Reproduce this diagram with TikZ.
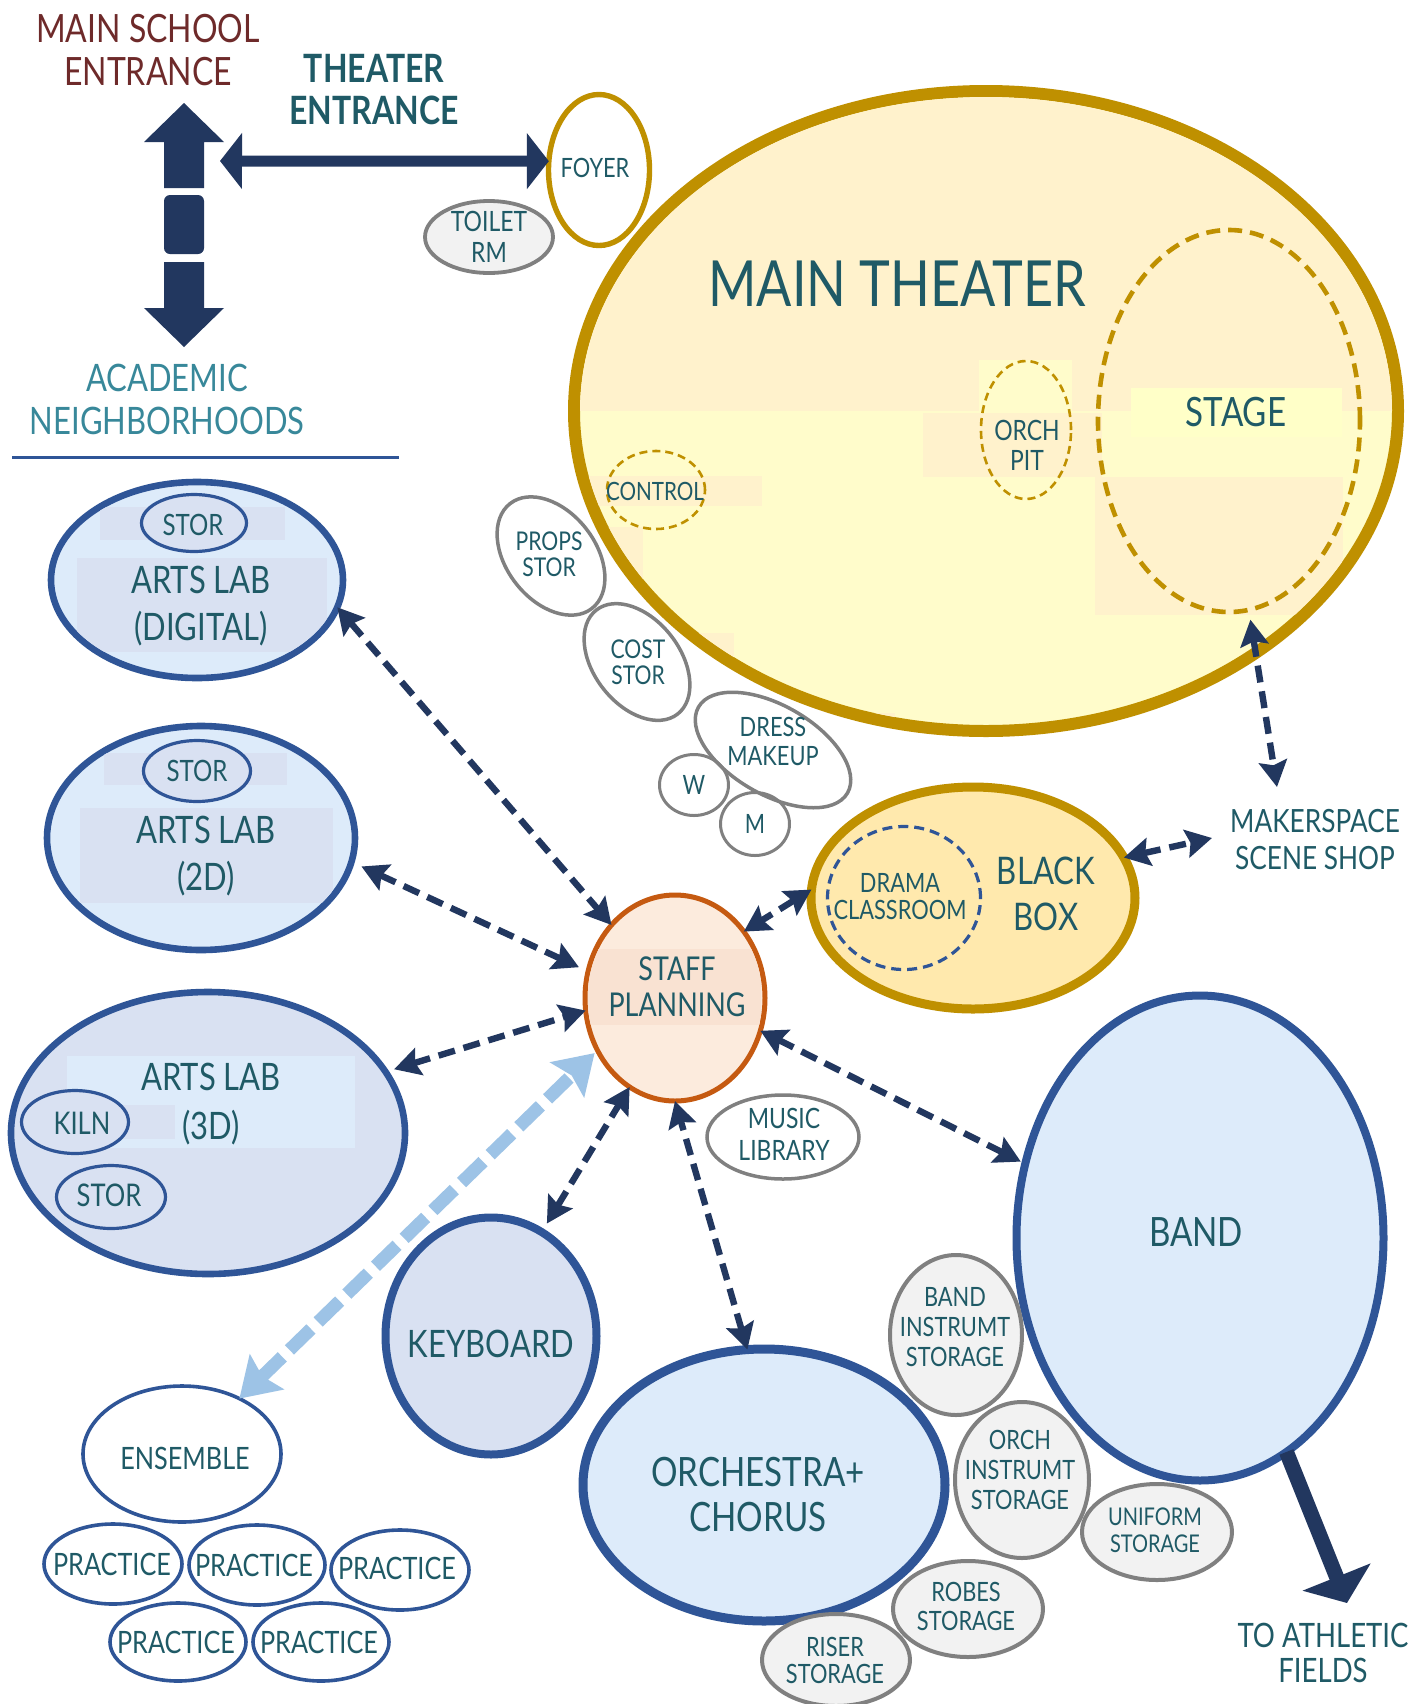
\documentclass[tikz,border=0pt]{standalone}
\usepackage{fontspec}
\setmainfont[FakeStretch=0.82]{Lato}
\usetikzlibrary{shapes.geometric,arrows.meta,calc}

\definecolor{txt}{HTML}{1F5A66}
\definecolor{maroon}{HTML}{6E2A2A}
\definecolor{acad}{HTML}{38889A}
\definecolor{navy}{HTML}{22375F}
\definecolor{bstroke}{HTML}{2F5597}
\definecolor{bfill}{HTML}{DDEBFA}
\definecolor{bfillD}{HTML}{D9E1F2}
\definecolor{gold}{HTML}{BF9000}
\definecolor{creamA}{HTML}{FFF2CC}
\definecolor{creamB}{HTML}{FFFCCB}
\definecolor{paleY}{HTML}{FFFFC8}
\definecolor{bbfill}{HTML}{FFE9AD}
\definecolor{orng}{HTML}{C55A11}
\definecolor{peach}{HTML}{FCEBDD}
\definecolor{peachD}{HTML}{F9E2D2}
\definecolor{gstroke}{HTML}{808080}
\definecolor{gfill}{HTML}{F2F2F2}
\definecolor{lblue}{HTML}{9DC3E6}

\newcommand\fnt[2]{\fontsize{#1}{#2}\selectfont}

\tikzset{
  el/.style 2 args={ellipse, inner sep=0pt, outer sep=0pt, minimum width=#1pt, minimum height=#2pt},
  tx/.style={inner sep=0pt, align=center, text=txt},
  blueroom/.style={draw=bstroke, line width=3.3pt, fill=bfill},
  bluesmall/.style={draw=bstroke, line width=1.6pt, fill=bfillD},
  blueout/.style={draw=bstroke, line width=1.8pt, fill=white},
  grayroom/.style={draw=gstroke, line width=1.75pt, fill=white},
  graystore/.style={draw=gstroke, line width=2pt, fill=gfill},
  golddash/.style={draw=gold, line width=1.3pt, dash pattern=on 4pt off 2.5pt},
  link/.style={navy, line width=3.2pt, dash pattern=on 8.5pt off 4.5pt,
    {Stealth[length=13pt,width=14pt,inset=2pt]}-{Stealth[length=13pt,width=14pt,inset=2pt]}},
  lightlink/.style={lblue, line width=6.5pt, dash pattern=on 15pt off 5pt,
    {Stealth[length=19pt,width=24pt,inset=3pt]}-{Stealth[length=19pt,width=24pt,inset=3pt]}},
}

\begin{document}
\begin{tikzpicture}[x=0.5pt, y=-0.5pt]
\fill[white] (0,0) rectangle (1427,1704);
\useasboundingbox (0,0) rectangle (1427,1704);

% ---------- entrances ----------
\node[tx, text=maroon, font=\fnt{19.5}{21.5}] (mainschool) at (148,50) {MAIN SCHOOL\\ENTRANCE};
\node[tx, font=\bfseries\fnt{19.5}{21}] (theaterent) at (374,90) {THEATER\\ENTRANCE};
\node[tx, text=acad, font=\fnt{18.9}{21.5}] (academic) at (167,399) {ACADEMIC\\NEIGHBORHOODS};
\draw[bstroke, line width=1.5pt] (12,457) -- (399,457);

% corridor arrow (north / south)
\fill[navy] (184,103) -- (224,142) -- (204,142) -- (204,188) -- (164,188) -- (164,142) -- (144,142) -- cycle;
\fill[navy, rounded corners=3pt] (164,195) rectangle (204,254);
\fill[navy] (164,262) -- (204,262) -- (204,308) -- (224,308) -- (184,347) -- (144,308) -- (164,308) -- cycle;

% ---------- main theater ----------
\node[el={412}{320}, draw=gold, line width=6pt, fill=creamB] (theater) at (986,411) {};
\begin{scope}
  \clip (986,411) ellipse [x radius=203pt, y radius=157pt];
  \fill[creamA] (500,0) rectangle (1427,411);
  \fill[creamB] (979,360) rectangle (1072,411);
  \fill[creamA] (923,413) rectangle (1102,477);
  \fill[creamA] (586,476) rectangle (762,506);
  \fill[creamA] (577,527) rectangle (643,582);
  \fill[creamA] (661,633) rectangle (734,668);
  \fill[creamA] (818,713) rectangle (895,733);
  \fill[creamA] (1095,477) rectangle (1343,615);
  \fill[paleY] (1131,388) rectangle (1342,437);
\end{scope}
\node[tx, font=\fnt{31.8}{34}] (theatertitle) at (897,284) {MAIN THEATER};
\node[el={131}{191}, draw=gold, line width=2.3pt, dash pattern=on 7pt off 4pt] (stage) at (1229,421) {};
\node[tx, font=\fnt{20.2}{22}] (stagetxt) at (1236,412) {STAGE};
\node[el={45}{69}, golddash] (orchpit) at (1026,430) {};
\node[tx, font=\fnt{14}{15}] (orchpittxt) at (1027,445) {ORCH\\PIT};
\node[el={49}{39}, golddash] (control) at (656,490) {};
\node[tx, font=\fnt{12.6}{13}] (controltxt) at (655,491) {CONTROL};

% foyer and toilet
\node[el={50.5}{75.5}, draw=gold, line width=2.7pt, fill=white] (foyer) at (599,170) {};
\node[tx, font=\fnt{13.3}{14}] (foyertxt) at (595,167.5) {FOYER};
\node[el={64}{36}, graystore, line width=1.9pt] (toilet) at (489,237) {};
\node[tx, font=\fnt{14}{15.5}] (toilettxt) at (489,237) {TOILET\\RM};

% theater support rooms
\node[el={66.5}{44.5}, grayroom, rotate=-52] (props) at (551,556) {};
\node[tx, font=\fnt{12.9}{13}] (propstxt) at (549,554.5) {PROPS\\STOR};
\node[el={66}{43}, grayroom, rotate=-52] (cost) at (637,662) {};
\node[tx, font=\fnt{12.9}{13}] (costtxt) at (638,662.5) {COST\\STOR};
\node[el={86}{44.5}, grayroom, fill=none, rotate=-30] (dress) at (773,750) {};
\node[tx, font=\fnt{13.3}{14.5}] (dresstxt) at (773,741.5) {DRESS\\MAKEUP};
\node[el={34.5}{30.5}, grayroom, line width=1.5pt, fill=none] (wroom) at (694,785) {};
\node[tx, font=\fnt{13.3}{14}] (wtxt) at (694,785) {W};
\node[el={34.5}{31.5}, grayroom, line width=1.5pt, fill=none] (mroom) at (755,824) {};
\node[tx, font=\fnt{13.3}{14}] (mtxt) at (755,824) {M};

% ---------- arts labs ----------
\node[el={146}{98}, blueroom] (digital) at (197,580) {};
\begin{scope}
  \clip (197,580) ellipse [x radius=71.3pt, y radius=47.3pt];
  \fill[bfillD] (100,507) rectangle (285,540);
  \fill[bfillD] (77,558) rectangle (327,652);
\end{scope}
\node[el={52.5}{28.5}, bluesmall] (stordig) at (194,523) {};
\node[tx, font=\fnt{14.7}{15}] (stordigtxt) at (193,524.5) {STOR};
\node[tx, font=\fnt{18.9}{23.5}] (digitaltxt) at (201,606) {ARTS LAB\\(DIGITAL)};

\node[el={154}{112}, blueroom] (twod) at (201,838) {};
\begin{scope}
  \clip (201,838) ellipse [x radius=75.3pt, y radius=54.3pt];
  \fill[bfillD] (104,753) rectangle (287,785);
  \fill[bfillD] (80,808) rectangle (333,903);
\end{scope}
\node[el={53.5}{30.5}, bluesmall] (stortwod) at (197,771) {};
\node[tx, font=\fnt{14.7}{15}] (stortwodtxt) at (197,770.5) {STOR};
\node[tx, font=\fnt{18.9}{23.5}] (twodtxt) at (206,856) {ARTS LAB\\(2D)};

\node[el={197}{141}, blueroom, fill=bfillD] (threed) at (208,1133) {};
\fill[bfill] (67,1056) rectangle (355,1148);
\fill[bfillD] (67,1105) rectangle (175,1139);
\node[tx, font=\fnt{18.9}{24.5}] (threedtxt) at (211,1104) {ARTS LAB\\(3D)};
\node[el={53.5}{31.5}, bluesmall] (kiln) at (75,1122) {};
\node[tx, font=\fnt{15.6}{16}] (kilntxt) at (82,1123.5) {KILN};
\node[el={54.5}{31.5}, bluesmall] (storthreed) at (111,1197) {};
\node[tx, font=\fnt{15.6}{16}] (storthreedtxt) at (109,1195.5) {STOR};

% ---------- staff planning ----------
\node[el={90}{103}, draw=orng, line width=2.5pt, fill=peach] (staff) at (675,998) {};
\begin{scope}
  \clip (675,998) ellipse [x radius=43.7pt, y radius=50.2pt];
  \fill[peachD] (588,949) rectangle (761,1025);
\end{scope}
\node[tx, font=\fnt{16.4}{18}] (stafftxt) at (677,987) {STAFF\\PLANNING};

% ---------- black box ----------
\node[el={162}{111}, draw=gold, line width=4.5pt, fill=bbfill] (blackbox) at (973,898) {};
\node[el={76.5}{71.5}, draw=bstroke, line width=1.6pt, dash pattern=on 5pt off 3pt] (drama) at (904,898) {};
\node[tx, font=\fnt{13.3}{13.5}] (dramatxt) at (900,896.5) {DRAMA\\CLASSROOM};
\node[tx, font=\fnt{19}{23}] (blackboxtxt) at (1046,893.5) {BLACK\\BOX};
\node[tx, font=\fnt{16}{18.5}] (makerspace) at (1315,840) {MAKERSPACE\\SCENE SHOP};

\node[el={76}{42}, grayroom] (music) at (783,1137) {};
\node[tx, font=\fnt{14}{16}] (musictxt) at (784,1134) {MUSIC\\LIBRARY};

% ---------- music rooms ----------
\node[el={105.5}{118.5}, blueroom, line width=4pt, fill=bfillD] (keyboard) at (491,1336) {};
\node[tx, font=\fnt{18.9}{20}] (keyboardtxt) at (491,1343.5) {KEYBOARD};

\node[el={181}{136}, blueroom, line width=4.5pt] (orchestra) at (764,1485) {};
\node[tx, font=\fnt{20.2}{22.5}] (orchestratxt) at (758,1495) {ORCHESTRA+\\CHORUS};

\node[el={183.5}{242.5}, blueroom, line width=4pt] (band) at (1200,1238) {};
\node[tx, font=\fnt{20.2}{22}] (bandtxt) at (1196,1232.5) {BAND};

\node[el={66}{80}, graystore] (bandinst) at (956,1335) {};
\node[tx, font=\fnt{13.3}{15}] (bandinsttxt) at (955,1327.5) {BAND\\INSTRUMT\\STORAGE};
\node[el={67}{78}, graystore] (orchinst) at (1022,1480) {};
\node[tx, font=\fnt{13.3}{15}] (orchinsttxt) at (1020,1470) {ORCH\\INSTRUMT\\STORAGE};
\node[el={75}{48}, graystore] (uniform) at (1157,1532) {};
\node[tx, font=\fnt{12.2}{13.5}] (uniformtxt) at (1155,1530) {UNIFORM\\STORAGE};
\node[el={75}{48}, graystore] (robes) at (968,1609) {};
\node[tx, font=\fnt{13.3}{14.5}] (robestxt) at (966,1606.5) {ROBES\\STORAGE};
\node[el={74}{46}, graystore] (riser) at (836,1660) {};
\node[tx, font=\fnt{13.3}{13.5}] (risertxt) at (835,1660.5) {RISER\\STORAGE};

% ensemble and practice rooms
\node[el={99}{68}, blueout] (ensemble) at (182,1454) {};
\node[tx, font=\fnt{15.4}{16}] (ensembletxt) at (185,1458) {ENSEMBLE};
\node[el={69}{40}, blueout] (prac1) at (113,1564) {};
\node[el={68}{40}, blueout] (prac2) at (257,1565) {};
\node[el={69}{40}, blueout] (prac3) at (400,1570) {};
\node[el={68}{39}, blueout] (prac4) at (178,1642) {};
\node[el={68}{39}, blueout] (prac5) at (321,1642) {};
\node[tx, font=\fnt{15.4}{16}] (prac1txt) at (112,1564) {PRACTICE};
\node[tx, font=\fnt{15.4}{16}] (prac2txt) at (254,1565) {PRACTICE};
\node[tx, font=\fnt{15.4}{16}] (prac3txt) at (397,1568) {PRACTICE};
\node[tx, font=\fnt{15.4}{16}] (prac4txt) at (176,1642) {PRACTICE};
\node[tx, font=\fnt{15.4}{16}] (prac5txt) at (319,1642) {PRACTICE};

\node[tx, font=\fnt{16.8}{17.5}] (athletic) at (1323,1652.5) {TO ATHLETIC\\FIELDS};

% ---------- connectors ----------
\coordinate (hallJoin) at (220,161);
\draw[navy, line width=5.5pt, {Triangle[length=11pt,width=27.5pt]}-{Triangle[length=11pt,width=27.5pt]}] (hallJoin) -- (foyer.170);

\coordinate (fieldsEnd) at (1347,1603);
\draw[navy, line width=7.5pt, -{Triangle[length=14pt,width=36pt]}] (band.-68) -- (fieldsEnd);

\coordinate (shopTop) at (1277,787);
\coordinate (shopLeft) at (1212,838);

\draw[link] (digital.-11.5) -- (staff.131.7);
\draw[link, shorten <=5.5pt, shorten >=5pt] (twod.-9.7) -- (staff.163.9);
\draw[link, shorten <=4.5pt] (threed.19.6) -- (staff.188.8);
\draw[link, shorten <=5pt] (keyboard.64.6) -- (staff.-117);
\draw[link] (orchestra.97.2) -- (staff.-90.5);
\draw[link, shorten <=2.5pt] (band.157.1) -- (staff.-21.1);
\draw[link] (blackbox.177.2) -- (staff.44.6);
\draw[link] (blackbox.15.7) -- (shopLeft);
\draw[link, shorten <=5pt] (stage.-84) -- (shopTop);
\draw[lightlink, shorten >=2pt] (ensemble.44.5) -- (staff.-146.3);

\end{tikzpicture}
\end{document}
